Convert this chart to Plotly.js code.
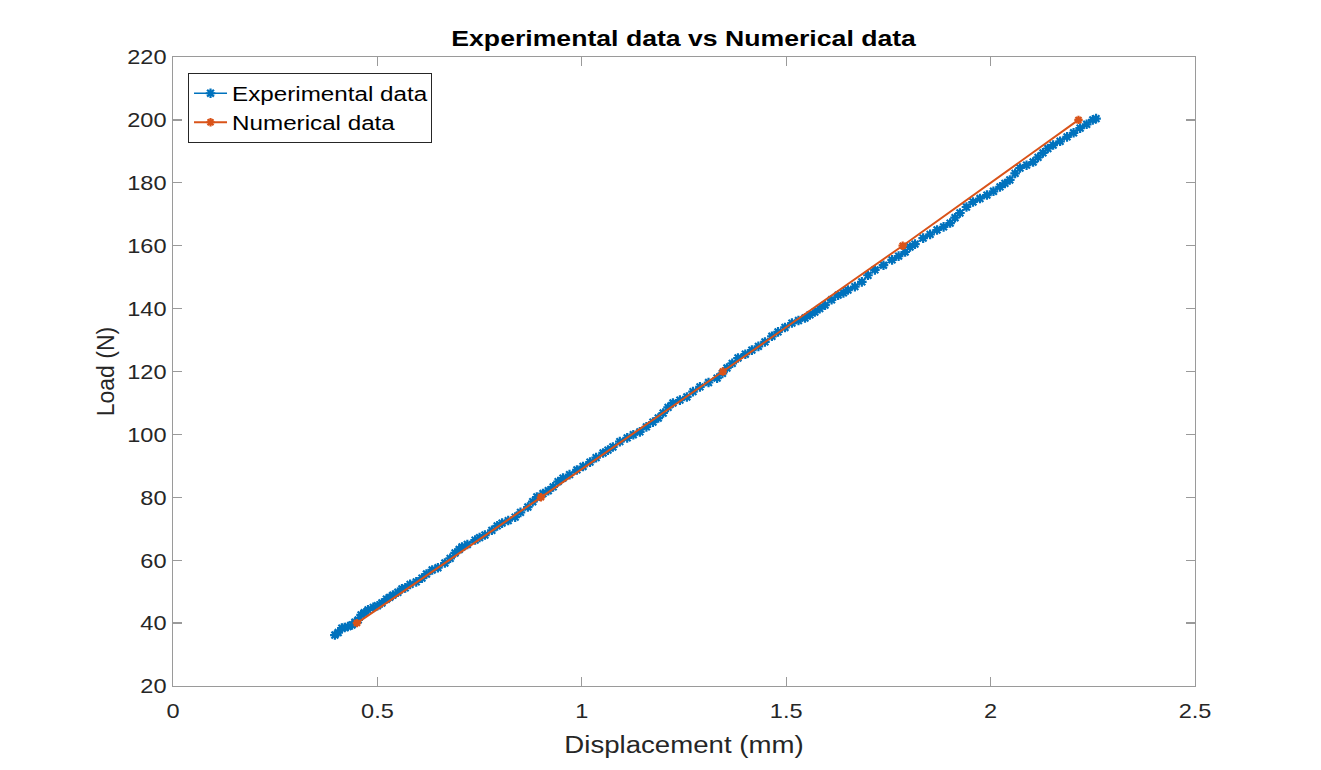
<!DOCTYPE html>
<html>
<head>
<meta charset="utf-8">
<script src="https://cdn.plot.ly/plotly-3.0.1.min.js"></script>
<style>html,body{margin:0;padding:0;background:#fff;}#chart{width:1321px;height:770px;}</style>
</head>
<body>
<div id="chart"></div>
<script>
const expX = [0.396,0.404,0.413,0.420,0.428,0.438,0.445,0.453,0.460,0.468,0.477,0.490,0.500,0.511,0.522,0.530,0.538,0.550,0.560,0.568,0.580,0.595,0.609,0.620,0.634,0.648,0.665,0.678,0.690,0.700,0.707,0.720,0.739,0.750,0.763,0.780,0.793,0.805,0.820,0.837,0.850,0.868,0.880,0.890,0.905,0.918,0.930,0.942,0.954,0.970,0.988,1.003,1.020,1.035,1.052,1.064,1.076,1.093,1.111,1.126,1.142,1.158,1.174,1.187,1.199,1.211,1.223,1.240,1.257,1.272,1.289,1.310,1.331,1.344,1.355,1.368,1.382,1.400,1.416,1.432,1.448,1.465,1.480,1.497,1.514,1.530,1.546,1.558,1.570,1.582,1.595,1.611,1.627,1.640,1.651,1.668,1.685,1.700,1.717,1.738,1.759,1.775,1.791,1.803,1.815,1.835,1.852,1.869,1.885,1.901,1.913,1.925,1.941,1.957,1.974,1.991,2.007,2.023,2.035,2.047,2.060,2.072,2.088,2.104,2.116,2.128,2.140,2.153,2.170,2.187,2.203,2.219,2.235,2.250,2.258];
const expY = [36.2,37.0,38.4,38.6,38.9,39.4,40.3,41.0,42.6,43.3,44.2,45.0,45.5,46.4,47.6,48.2,48.9,49.8,50.9,51.2,52.3,53.1,54.3,55.6,56.9,57.6,59.1,60.6,62.3,63.4,64.2,65.0,66.4,67.2,68.0,69.5,70.9,71.8,72.6,73.7,75.2,76.9,78.6,80.1,81.2,82.1,83.3,85.0,86.1,87.2,88.7,89.8,91.2,92.6,94.1,95.0,96.0,97.7,98.9,99.9,100.8,102.4,103.9,105.2,106.8,108.6,110.0,110.9,111.9,113.6,115.1,116.5,117.9,119.4,121.1,122.6,124.3,125.5,126.8,128.0,129.4,131.2,132.6,134.0,135.4,136.2,137.0,138.0,138.9,140.0,141.1,142.8,144.3,145.0,145.9,147.0,148.5,150.6,152.3,153.8,155.5,156.7,158.0,159.6,160.5,162.4,163.6,165.0,166.0,167.2,168.9,170.4,172.3,173.9,175.0,176.1,177.3,178.7,179.8,180.9,183.0,184.7,185.6,186.6,188.1,189.5,190.9,192.0,193.2,194.6,195.9,197.4,198.6,200.0,200.4];
const numX = [0.45,0.90,1.345,1.785,2.215];
const numY = [40,80,120,160,200];
const xTicks = [0,0.5,1,1.5,2,2.5];
const xTickText = ['0','0.5','1','1.5','2','2.5'];
const yTicks = [20,40,60,80,100,120,140,160,180,200,220];

const blue = '#0072BD';
const orange = '#D95319';
const font = 'Liberation Sans, Arial, Helvetica, sans-serif';

const traces = [
  {x: expX, y: expY, type: 'scatter', mode: 'lines+markers', name: 'Experimental data',
   line: {color: blue, width: 1.5},
   marker: {symbol: 'asterisk-open', size: 8, color: blue, line: {color: blue, width: 2.2}}},
  {x: numX, y: numY, type: 'scatter', mode: 'lines+markers', name: 'Numerical data',
   line: {color: orange, width: 2},
   marker: {symbol: 'asterisk-open', size: 7, color: orange, line: {color: orange, width: 2.2}}}
];

const axisCommon = {
  showgrid: false, zeroline: false, showline: true, mirror: 'ticks',
  linecolor: '#9a9a9a', linewidth: 1.3, ticks: 'inside', ticklen: 9, tickwidth: 1.3,
  tickcolor: '#9a9a9a', tickfont: {family: font, size: 21, color: '#262626'}
};

const layout = {
  width: 1321, height: 770,
  paper_bgcolor: '#fff', plot_bgcolor: '#fff',
  margin: {l: 173, r: 126, t: 57, b: 84},
  title: {text: '<b>Experimental data vs Numerical data</b>', font: {family: font, size: 22, color: '#000'},
          x: 0.5175, xanchor: 'center', y: 0.950, yanchor: 'middle'},
  xaxis: Object.assign({}, axisCommon, {range: [0, 2.5], tickvals: xTicks, ticktext: xTickText,
          ticklabelstandoff: 5,
          title: {text: 'Displacement (mm)', font: {family: font, size: 23, color: '#262626'}, standoff: 16}}),
  yaxis: Object.assign({}, axisCommon, {range: [20, 220], tickvals: yTicks, ticklabelstandoff: 1,
          title: {text: 'Load (N)', font: {family: font, size: 23, color: '#262626'}, standoff: 10}}),
  showlegend: true,
  legend: {x: 0.0147, y: 0.975, xanchor: 'left', yanchor: 'top', bgcolor: '#fff',
           bordercolor: '#262626', borderwidth: 1, font: {family: font, size: 20, color: '#000'},
           tracegroupgap: 0, itemwidth: 33}
};

function stretch(sel, f) {
  document.querySelectorAll(sel).forEach(function (t) {
    const w = t.getComputedTextLength();
    if (w > 0) {
      t.setAttribute('textLength', (w * f).toFixed(1));
      t.setAttribute('lengthAdjust', 'spacingAndGlyphs');
    }
  });
}

Plotly.newPlot('chart', traces, layout, {displayModeBar: false, staticPlot: true}).then(function () {
  stretch('#chart .gtitle', 1.21);
  stretch('#chart .xtitle', 1.2);
  stretch('#chart .legendtext', 1.21);
  stretch('#chart .xtick text', 1.12);
  stretch('#chart .ytick text', 1.12);
  // widen the legend box to fit the widened legend text
  const legendW = 243;
  document.querySelectorAll('#chart .legend rect.bg').forEach(function (r) { r.setAttribute('width', legendW); });
  document.querySelectorAll('#chart clipPath[id^="legend"] rect').forEach(function (r) { r.setAttribute('width', legendW); });
});
</script>
</body>
</html>
